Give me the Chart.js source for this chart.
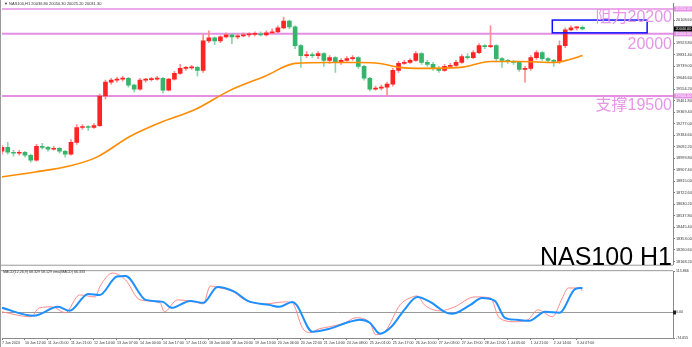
<!DOCTYPE html>
<html><head><meta charset="utf-8">
<script src="https://cdn.jsdelivr.net/npm/chart.js@4.4.1/dist/chart.umd.min.js"></script>
<style>
html,body{margin:0;padding:0;background:#fff;}
#wrap{position:relative;width:692px;height:347px;overflow:hidden;background:#fff;font-family:"Liberation Sans",Arial,"Noto Sans CJK SC",sans-serif;}
canvas{position:absolute;left:0;}
#c1{top:0;}
#c2{top:268px;}
.lbl{position:absolute;white-space:nowrap;line-height:1;}
.big{color:#e696e6;font-size:16px;right:20px;}
</style></head><body>
<div id="wrap">
<canvas id="c1" width="692" height="268"></canvas>
<canvas id="c2" width="692" height="79"></canvas>
<div class="lbl" style="left:4px;top:2px;font-size:4px;color:#333">▼ NAS100,H1 20036.80 20050.30 20025.20 20031.30</div>
<div class="lbl big" style="top:9px">阻力20200</div>
<div class="lbl big" style="top:35.5px">20000</div>
<div class="lbl big" style="top:97px">支撑19500</div>
<div class="lbl" style="right:20px;top:244px;font-size:25px;color:#000">NAS100 H1</div>
<div class="lbl" style="left:3px;top:271px;font-size:3.6px;color:#333">MACD(12,26,9) 68.329 58.129 ema(MACD) 66.333</div>
</div>
<script>
// ---------- DATA ----------
const candleHours = [0,4,8,12,16,20,24,28,32,36,40,44,48,52,56,60,64,68,72,76,80,84,88,92,96,100,104,108,112,116,120,124,128,132,136,140,144,148,152,156,160,164,168,172,176,180,184,188,192,196,200,204,208,212,216,220,224,228,232,236,240,244,248,252,256,260,264,268,272,276,280,284,288,292,296,300,304,308,312,316,320,324,328,332,336,340,344,348,352,356,360,364,368,372,376,380,384,388,392,396,400,404];
const candleOpen = [19055,19087,19047,19039,19047,19023,18984,19095,19087,19071,19079,19055,19031,19127,19246,19254,19246,19262,19500,19611,19627,19635,19643,19587,19555,19627,19631,19635,19643,19547,19635,19682,19722,19726,19730,19706,19944,19968,19944,19976,19992,19976,19984,19992,19996,20000,19992,20008,20016,20048,20103,20056,19905,19825,19833,19825,19841,19786,19809,19770,19786,19801,19809,19738,19643,19555,19563,19571,19595,19706,19762,19770,19786,19841,19770,19754,19722,19706,19738,19746,19770,19817,19809,19849,19905,19897,19905,19801,19786,19778,19770,19714,19722,19809,19849,19801,19786,19778,19905,20032,20048,20052];
const candleHigh = [19103,19127,19063,19063,19055,19031,19111,19119,19095,19095,19087,19063,19150,19270,19270,19262,19277,19516,19627,19643,19651,19659,19651,19595,19643,19643,19651,19659,19651,19643,19698,19754,19738,19746,19738,20000,20024,19976,19984,20008,20000,20000,20008,20008,20016,20016,20024,20040,20064,20135,20111,20064,19913,19857,19849,19857,19849,19825,19817,19801,19817,19825,19817,19746,19651,19579,19587,19611,19722,19778,19786,19801,19857,19849,19786,19770,19738,19754,19762,19786,19833,19841,19865,19921,19913,20064,19913,19809,19794,19786,19778,19738,19825,19865,19857,19809,19794,19944,20048,20064,20056,20064];
const candleLow = [19031,19031,19015,19023,19008,18968,18976,19071,19055,19063,19039,19008,19023,19111,19230,19222,19238,19254,19476,19595,19611,19619,19571,19532,19547,19611,19619,19627,19524,19540,19627,19674,19706,19714,19659,19690,19929,19913,19929,19968,19921,19960,19976,19976,19984,19984,19984,20000,20008,20040,20040,19881,19730,19809,19809,19801,19738,19762,19690,19754,19778,19786,19722,19627,19540,19547,19547,19500,19579,19690,19754,19762,19778,19754,19738,19706,19690,19698,19730,19738,19762,19794,19801,19841,19881,19889,19778,19730,19762,19754,19698,19611,19706,19794,19786,19770,19738,19762,19889,20024,20032,20032];
const candleClose = [19087,19047,19039,19047,19023,18984,19095,19087,19071,19079,19055,19031,19127,19246,19254,19246,19262,19500,19611,19627,19635,19643,19587,19555,19627,19631,19635,19643,19547,19635,19682,19722,19726,19730,19706,19944,19968,19944,19976,19992,19976,19984,19992,19996,20000,19992,20008,20016,20048,20103,20056,19905,19825,19833,19825,19841,19786,19809,19770,19786,19801,19809,19738,19643,19555,19563,19571,19595,19706,19762,19770,19786,19841,19770,19754,19722,19706,19738,19746,19770,19817,19809,19849,19905,19897,19905,19801,19786,19778,19770,19714,19722,19809,19849,19801,19786,19778,19905,20032,20048,20052,20040];

const maHours  = [0,23,47,66,89,110,134,159,183,204,228,249,263,277,291,319,340,360,385,395,404];
const maValues = [18849,18888,18936,19008,19174,19285,19389,19547,19659,19762,19770,19770,19762,19730,19722,19730,19778,19778,19770,19794,19825];

const macdHours  = [0,22,39,47,60,68,80,86,100,112,118,131,140,150,162,171,186,193,202,205,216,228,242,249,256,263,271,280,289,298,308,313,326,334,343,350,358,367,378,388,399,404];
const macdValues = [11.3,-11.3,14.2,2.8,50.9,48.1,100.5,101.9,34.0,28.3,11.3,31.1,25.5,70.8,56.6,31.1,19.8,14.2,28.3,19.8,-56.6,-48.1,-28.3,-22.6,-31.1,-62.3,-42.5,5.7,42.5,28.3,0,-5.7,19.8,39.6,31.1,-17.0,-22.6,-25.5,0,-2.8,65.1,67.9];
const signalHours  = [0,20,26,35,44,54,65,68,77,86,96,110,113,122,134,140,145,152,160,169,183,197,202,209,214,221,228,239,246,256,260,267,277,284,289,294,305,315,329,340,346,357,366,373,383,390,394,402,404];
const signalValues = [0,-14.2,11.3,14.2,-2.8,48.1,42.5,70.8,110.4,90.6,34.0,25.5,0,34.0,28.3,22.6,73.6,67.9,59.4,34.0,22.6,28.3,25.5,-45.3,-59.4,-48.1,-42.5,-31.1,-17.0,-31.1,-65.1,-53.8,19.8,39.6,45.3,19.8,2.8,14.2,42.5,39.6,-17.0,-28.3,-22.6,5.7,-14.2,39.6,67.9,67.9,59.4];

const levelPrices = [20200, 20000, 19500];
const boxHours = [383, 449];
const boxPrices = [20008, 20111];

const priceTicks = [20108.6,20016.2,19923.8,19831.4,19739.0,19646.6,19554.2,19461.8,19369.4,19277.0,19184.6,19092.2,18999.8,18907.4,18815.0,18722.6,18630.2,18537.8,18445.4,18353.0,18260.6,18168.2];
const macdTickValues = [-74.655, 0, 115.866];
const macdTickLabels = ['-74.655', '0.00', '115.866'];
const timeLabels = ['7 Jun 2024','10 Jun 12:00','11 Jun 05:00','11 Jun 21:00','12 Jun 14:00','13 Jun 07:00','14 Jun 00:00','14 Jun 17:00','17 Jun 11:00','18 Jun 04:00','18 Jun 20:00','19 Jun 13:00','20 Jun 06:00','20 Jun 22:00','21 Jun 14:00','24 Jun 08:00','25 Jun 01:00','25 Jun 17:00','26 Jun 10:00','27 Jun 03:00','27 Jun 19:00','28 Jun 12:00','1 Jul 05:00','1 Jul 21:00','2 Jul 14:00','3 Jul 07:00'];

// ---------- STYLE ----------
const UP_BODY = '#ff2424', DN_BODY = '#35b56c';
const UP_WICK = '#ff8e8e', DN_WICK = '#8bd6a8';
const LEVEL_COLOR = '#e48ee4';
const X_MIN = 0, X_MAX = 467;
Chart.defaults.font.family = '"Liberation Sans", Arial, sans-serif';

const isUp = candleClose.map((c, i) => c >= candleOpen[i]);

const frame = (chart, ctx) => {
  ctx.save();
  ctx.fillStyle = '#9a9a9a';
  ctx.fillRect(0, 0, 1, chart.height);
  ctx.restore();
};

const mainOverlay = {
  id: 'mainOverlay',
  beforeDatasetsDraw(chart) {
    const {ctx, chartArea: a, scales: {y}} = chart;
    ctx.save();
    ctx.strokeStyle = LEVEL_COLOR;
    levelPrices.forEach((p, k) => {
      const py = y.getPixelForValue(p);
      ctx.lineWidth = k === 0 ? 1.5 : 2;
      ctx.beginPath(); ctx.moveTo(a.left, py); ctx.lineTo(a.right, py); ctx.stroke();
    });
    ctx.restore();
  },
  afterDatasetsDraw(chart) {
    const {ctx, chartArea: a, scales: {x, y}} = chart;
    ctx.save();
    const x0 = x.getPixelForValue(boxHours[0]), x1 = x.getPixelForValue(boxHours[1]);
    const y0 = y.getPixelForValue(boxPrices[1]), y1 = y.getPixelForValue(boxPrices[0]);
    ctx.strokeStyle = '#1010ff'; ctx.lineWidth = 1.5;
    ctx.strokeRect(x0, y0, x1 - x0, y1 - y0);
    ctx.fillStyle = '#9a9a9a';
    ctx.fillRect(0, a.bottom, chart.width - 19, 1);
    ctx.restore();
    frame(chart, ctx);
  },
  afterDraw(chart) {
    const {ctx, chartArea: a, scales: {y}} = chart;
    ctx.save();
    ctx.font = '3.8px "Liberation Sans", Arial';
    ctx.textBaseline = 'middle';
    const badge = (p, bg, fg) => {
      const py = y.getPixelForValue(p);
      ctx.fillStyle = bg; ctx.fillRect(a.right + 1, py - 2.5, 18, 5);
      ctx.fillStyle = fg; ctx.fillText(p.toFixed(2), a.right + 2.5, py);
    };
    levelPrices.forEach(p => badge(p, LEVEL_COLOR, '#fff'));
    badge(candleClose[candleClose.length - 1], '#000', '#fff');
    ctx.restore();
  }
};

new Chart(document.getElementById('c1'), {
  type: 'bar',
  data: {
    datasets: [
      {type: 'line', data: maHours.map((h, i) => ({x: h, y: maValues[i]})), borderColor: '#ff8c00', borderWidth: 1.6, pointRadius: 0, cubicInterpolationMode: 'monotone', order: 0},
      {data: candleHours.map((h, i) => ({x: h, y: [candleOpen[i], candleClose[i]]})), backgroundColor: isUp.map(u => u ? UP_BODY : DN_BODY), barThickness: 4, grouped: false, minBarLength: 1, order: 1},
      {data: candleHours.map((h, i) => ({x: h, y: [candleLow[i], candleHigh[i]]})), backgroundColor: isUp.map(u => u ? UP_WICK : DN_WICK), barThickness: 1, grouped: false, order: 2}
    ]
  },
  options: {
    responsive: false, animation: false, devicePixelRatio: 1, events: [],
    layout: {padding: {left: 2, top: 2, bottom: 1, right: 0}},
    plugins: {legend: {display: false}, tooltip: {enabled: false}},
    scales: {
      x: {type: 'linear', min: X_MIN, max: X_MAX, offset: false, display: false},
      y: {
        position: 'right', min: 18142, max: 20246, beginAtZero: false,
        afterBuildTicks: s => { s.ticks = priceTicks.map(v => ({value: v})); },
        afterFit: s => { s.width = 19; },
        ticks: {font: {size: 3.8}, color: '#333', padding: 1, autoSkip: false, callback: v => Number(v).toFixed(2)},
        grid: {drawOnChartArea: false, tickLength: 2, color: '#777'},
        border: {color: '#8a8a8a'}
      }
    }
  },
  plugins: [mainOverlay]
});

const macdOverlay = {
  id: 'macdOverlay',
  beforeDatasetsDraw(chart) {
    const {ctx, chartArea: a, scales: {y}} = chart;
    ctx.save();
    const py = Math.round(y.getPixelForValue(0)) + 0.5;
    ctx.strokeStyle = '#9a9a9a'; ctx.lineWidth = 1;
    ctx.beginPath(); ctx.moveTo(a.left, py); ctx.lineTo(a.right, py); ctx.stroke();
    ctx.fillStyle = '#9a9a9a';
    ctx.fillRect(0, a.top - 1, a.right, 1);
    ctx.fillStyle = '#222';
    ctx.fillRect(a.right, py - 2, 3, 4);
    ctx.restore();
    frame(chart, ctx);
  }
};

new Chart(document.getElementById('c2'), {
  type: 'line',
  data: {
    datasets: [
      {data: macdHours.map((h, i) => ({x: h, y: macdValues[i]})), borderColor: '#1e8fff', borderWidth: 2, pointRadius: 0, cubicInterpolationMode: 'monotone', order: 0},
      {data: signalHours.map((h, i) => ({x: h, y: signalValues[i]})), borderColor: '#ff8a8a', borderWidth: 1, pointRadius: 0, cubicInterpolationMode: 'monotone', order: 1}
    ]
  },
  options: {
    responsive: false, animation: false, devicePixelRatio: 1, events: [],
    layout: {padding: {left: 2, top: 2, bottom: 0, right: 0}},
    plugins: {legend: {display: false}, tooltip: {enabled: false}},
    scales: {
      x: {
        type: 'linear', min: X_MIN, max: X_MAX,
        afterBuildTicks: s => { s.ticks = timeLabels.map((_, k) => ({value: k * 16})); },
        afterFit: s => { s.height = 9; },
        ticks: {font: {size: 3.6}, color: '#333', align: 'start', maxRotation: 0, minRotation: 0, autoSkip: false, padding: 1, callback: (v, idx) => timeLabels[idx]},
        grid: {drawOnChartArea: false, tickLength: 2, color: '#777'},
        border: {color: '#8a8a8a'}
      },
      y: {
        position: 'right', min: -74.655, max: 115.866,
        afterBuildTicks: s => { s.ticks = macdTickValues.map(v => ({value: v})); },
        afterFit: s => { s.width = 19; },
        ticks: {font: {size: 3.6}, color: '#333', padding: 1, autoSkip: false, callback: (v, idx) => macdTickLabels[idx]},
        grid: {drawOnChartArea: false, tickLength: 2, color: '#777'},
        border: {color: '#8a8a8a'}
      }
    }
  },
  plugins: [macdOverlay]
});
</script>
</body></html>
